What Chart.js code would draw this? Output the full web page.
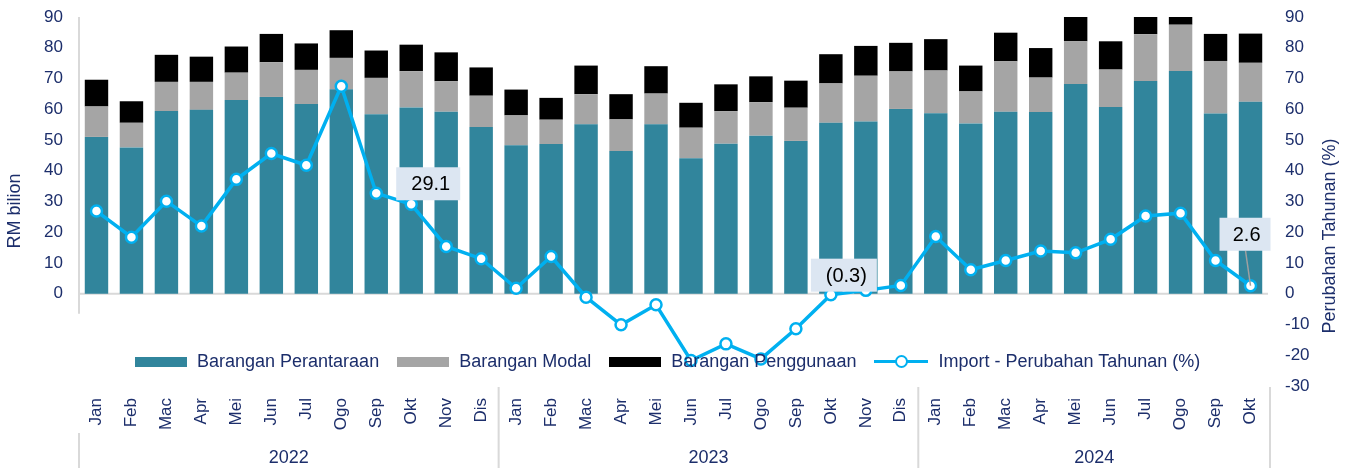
<!DOCTYPE html>
<html lang="ms">
<head>
<meta charset="UTF-8">
<title>Import mengikut kategori</title>
<script src="https://cdn.jsdelivr.net/npm/chart.js@4.4.3/dist/chart.umd.min.js"></script>
<style>
  body { margin: 0; background: #fff; font-family: "Liberation Sans", Arial, sans-serif; }
  #wrap { position: relative; width: 1353px; height: 468px; }
  #legend { position: absolute; left: 135px; top: 351px; display: flex; align-items: center;
            font-size: 18px; color: #1c2e6b; white-space: nowrap; }
  #legend .sw { display: inline-block; width: 52px; height: 10px; margin-right: 10px; }
  #legend .item { display: flex; align-items: center; margin-right: 18px; }
  #legend .ln { position: relative; width: 54px; height: 3px; background: #00b0f0; margin-right: 10px; }
  #legend .ln::after { content: ''; position: absolute; left: 21px; top: -5px; width: 9px; height: 9px;
            border: 2px solid #00b0f0; border-radius: 50%; background: #fff; }
</style>
</head>
<body>
<div id="wrap">
  <canvas id="chart"></canvas>
  <div id="legend">
    <span class="item"><span class="sw" style="background:#31859c"></span>Barangan Perantaraan</span>
    <span class="item"><span class="sw" style="background:#a5a5a5"></span>Barangan Modal</span>
    <span class="item"><span class="sw" style="background:#000"></span>Barangan Penggunaan</span>
    <span class="item"><span class="ln"></span>Import - Perubahan Tahunan (%)</span>
  </div>
</div>

<script>
// Data (RM bilion dan % perubahan tahunan)
const months = ['Jan','Feb','Mac','Apr','Mei','Jun','Jul','Ogo','Sep','Okt','Nov','Dis',
                'Jan','Feb','Mac','Apr','Mei','Jun','Jul','Ogo','Sep','Okt','Nov','Dis',
                'Jan','Feb','Mac','Apr','Mei','Jun','Jul','Ogo','Sep','Okt'];
const years = ['2022', '2023', '2024'];
const yearCounts = [12, 12, 10];

const perantaraan = [51.0, 47.6, 59.4, 59.8, 63.0, 64.0, 61.7, 66.5, 58.4, 60.6, 59.2, 54.2,
                     48.3, 48.7, 55.1, 46.4, 55.1, 44.1, 48.8, 51.4, 49.7, 55.6, 56.0, 60.1,
                     58.7, 55.4, 59.2, 59.1, 68.2, 60.7, 69.2, 72.4, 58.6, 62.4];
const modal = [9.9, 8.0, 9.5, 9.1, 8.9, 11.3, 11.1, 10.2, 11.8, 11.8, 9.9, 10.2,
               9.7, 7.9, 9.8, 10.3, 10.0, 9.9, 10.6, 10.9, 10.8, 12.8, 14.9, 12.2,
               13.9, 10.4, 16.4, 11.2, 13.9, 12.2, 15.2, 15.1, 17.1, 12.7];
const penggunaan = [8.7, 7.0, 8.8, 8.2, 8.5, 9.2, 8.6, 9.0, 8.9, 8.6, 9.4, 9.2,
                    8.4, 7.1, 9.3, 8.2, 8.9, 8.1, 8.7, 8.4, 8.8, 9.5, 9.7, 9.3,
                    10.2, 8.4, 9.3, 9.6, 8.9, 9.2, 7.1, 4.5, 8.8, 9.5];
const perubahan = [26.9, 18.4, 30.1, 22.0, 37.2, 45.6, 41.8, 67.5, 32.7, 29.1, 15.4, 11.4,
                   1.8, 12.1, -1.1, -10.1, -3.6, -21.7, -16.3, -21.2, -11.4, -0.3, 1.1, 2.7,
                   18.6, 7.8, 10.8, 13.9, 13.3, 17.7, 25.3, 26.2, 10.8, 2.6];
const labelledPoints = [9, 21, 33];

// kotak label: [dx, dy, lebar, tinggi] dari titik
const boxOffsets = [[-15, -37, 64, 33], [-20, -36, 66, 33], [-31, -68, 51, 33]];

const navy = '#1c2e6b';
const fontFamily = '"Liberation Sans", Arial, sans-serif';

function fmt(v) {
    return v < 0 ? '(' + Math.abs(v).toFixed(1) + ')' : v.toFixed(1);
}

// buang padding label automatik supaya kawasan carta tepat
function noPad(s) {
    s.paddingTop = 0;
    s.paddingBottom = 0;
    s.paddingLeft = 0;
    s.paddingRight = 0;
}

const extras = {
    id: 'extras',
    beforeDatasetsDraw(chart) {
        const { ctx, chartArea: a, scales: { y } } = chart;
        ctx.save();
        ctx.strokeStyle = '#d9d9d9';
        ctx.lineWidth = 2;
        const y0 = y.getPixelForValue(0);
        ctx.beginPath();
        ctx.moveTo(a.left, y0);
        ctx.lineTo(a.right, y0);
        ctx.moveTo(a.left, a.top);
        ctx.lineTo(a.left, y.getPixelForValue(-6.5));
        ctx.stroke();
        ctx.restore();
    },
    afterDatasetsDraw(chart) {
        const { ctx } = chart;
        const meta = chart.getDatasetMeta(3);
        ctx.save();
        labelledPoints.forEach((idx, k) => {
            const p = meta.data[idx];
            const [dx, dy, w, h] = boxOffsets[k];
            const bx = p.x + dx, by = p.y + dy;
            if (k === 2) {
                ctx.strokeStyle = '#a0a0a0';
                ctx.lineWidth = 1.5;
                ctx.beginPath();
                ctx.moveTo(p.x - 5, by + h);
                ctx.lineTo(p.x, p.y);
                ctx.stroke();
            }
            ctx.fillStyle = '#dce6f2';
            ctx.fillRect(bx, by, w, h);
            ctx.fillStyle = '#000';
            ctx.font = '20px ' + fontFamily;
            ctx.textAlign = 'right';
            ctx.textBaseline = 'middle';
            ctx.fillText(fmt(perubahan[idx]), bx + w - 10, by + h / 2 + 1);
        });
        ctx.restore();
    },
    afterDraw(chart) {
        const { ctx, chartArea: a, scales: { x } } = chart;
        ctx.save();
        // garis pemisah tahun
        ctx.strokeStyle = '#d9d9d9';
        ctx.lineWidth = 2;
        const bounds = [a.left];
        let n = 0;
        yearCounts.forEach(c => {
            n += c;
            bounds.push(n < months.length
                ? (x.getPixelForValue(n - 1) + x.getPixelForValue(n)) / 2
                : a.right + 2);
        });
        ctx.beginPath();
        bounds.forEach((bx, i) => {
            const top = (i === 0) ? 433 : 387;
            ctx.moveTo(bx, top);
            ctx.lineTo(bx, 468);
        });
        ctx.stroke();

        // label tahun
        ctx.fillStyle = navy;
        ctx.font = '18px ' + fontFamily;
        ctx.textAlign = 'center';
        ctx.textBaseline = 'middle';
        years.forEach((yr, i) => {
            ctx.fillText(yr, (bounds[i] + bounds[i + 1]) / 2, 458);
        });

        // tajuk paksi
        ctx.translate(15, 211);
        ctx.rotate(-Math.PI / 2);
        ctx.fillText('RM bilion', 0, 0);
        ctx.setTransform(1, 0, 0, 1, 0, 0);
        ctx.translate(1330, 236);
        ctx.rotate(-Math.PI / 2);
        ctx.fillText('Perubahan Tahunan (%)', 0, 0);
        ctx.restore();
    }
};

const barBase = { yAxisID: 'y', stack: 'import', order: 1, barPercentage: 0.67, categoryPercentage: 1 };

new Chart(document.getElementById('chart'), {
    type: 'bar',
    data: {
        labels: months,
        datasets: [
            { ...barBase, label: 'Barangan Perantaraan', data: perantaraan, backgroundColor: '#31859c' },
            { ...barBase, label: 'Barangan Modal', data: modal, backgroundColor: '#a5a5a5' },
            { ...barBase, label: 'Barangan Penggunaan', data: penggunaan, backgroundColor: '#000000' },
            {
                type: 'line',
                label: 'Import - Perubahan Tahunan (%)',
                data: perubahan,
                yAxisID: 'y1',
                order: 0,
                borderColor: '#00b0f0',
                borderWidth: 3.5,
                pointRadius: 5.5,
                pointBorderWidth: 2.5,
                pointBackgroundColor: '#ffffff',
                pointBorderColor: '#00b0f0',
                tension: 0
            }
        ]
    },
    options: {
        responsive: true,
        maintainAspectRatio: false,
        animation: false,
        layout: { padding: { top: 17, left: 0, right: 0, bottom: 0 } },
        plugins: {
            legend: { display: false },
            tooltip: { enabled: false }
        },
        scales: {
            x: {
                stacked: true,
                grid: { display: false },
                border: { display: false },
                ticks: {
                    autoSkip: false,
                    minRotation: 90,
                    maxRotation: 90,
                    padding: 4,
                    color: navy,
                    font: { size: 17, family: fontFamily }
                },
                afterFit: s => { s.height = 82; noPad(s); }
            },
            y: {
                stacked: true,
                position: 'left',
                min: -30,
                max: 90,
                grid: { display: false, drawTicks: false },
                border: { display: false },
                ticks: {
                    stepSize: 10,
                    padding: 16,
                    color: navy,
                    font: { size: 17, family: fontFamily },
                    callback: v => (v >= 0 ? v : '')
                },
                afterFit: s => { s.width = 79; noPad(s); }
            },
            y1: {
                position: 'right',
                min: -30,
                max: 90,
                grid: { display: false, drawTicks: false },
                border: { display: false },
                ticks: {
                    stepSize: 10,
                    padding: 17,
                    color: navy,
                    font: { size: 17, family: fontFamily }
                },
                afterFit: s => { s.width = 85; noPad(s); }
            }
        }
    },
    plugins: [extras]
});
</script>
</body>
</html>
